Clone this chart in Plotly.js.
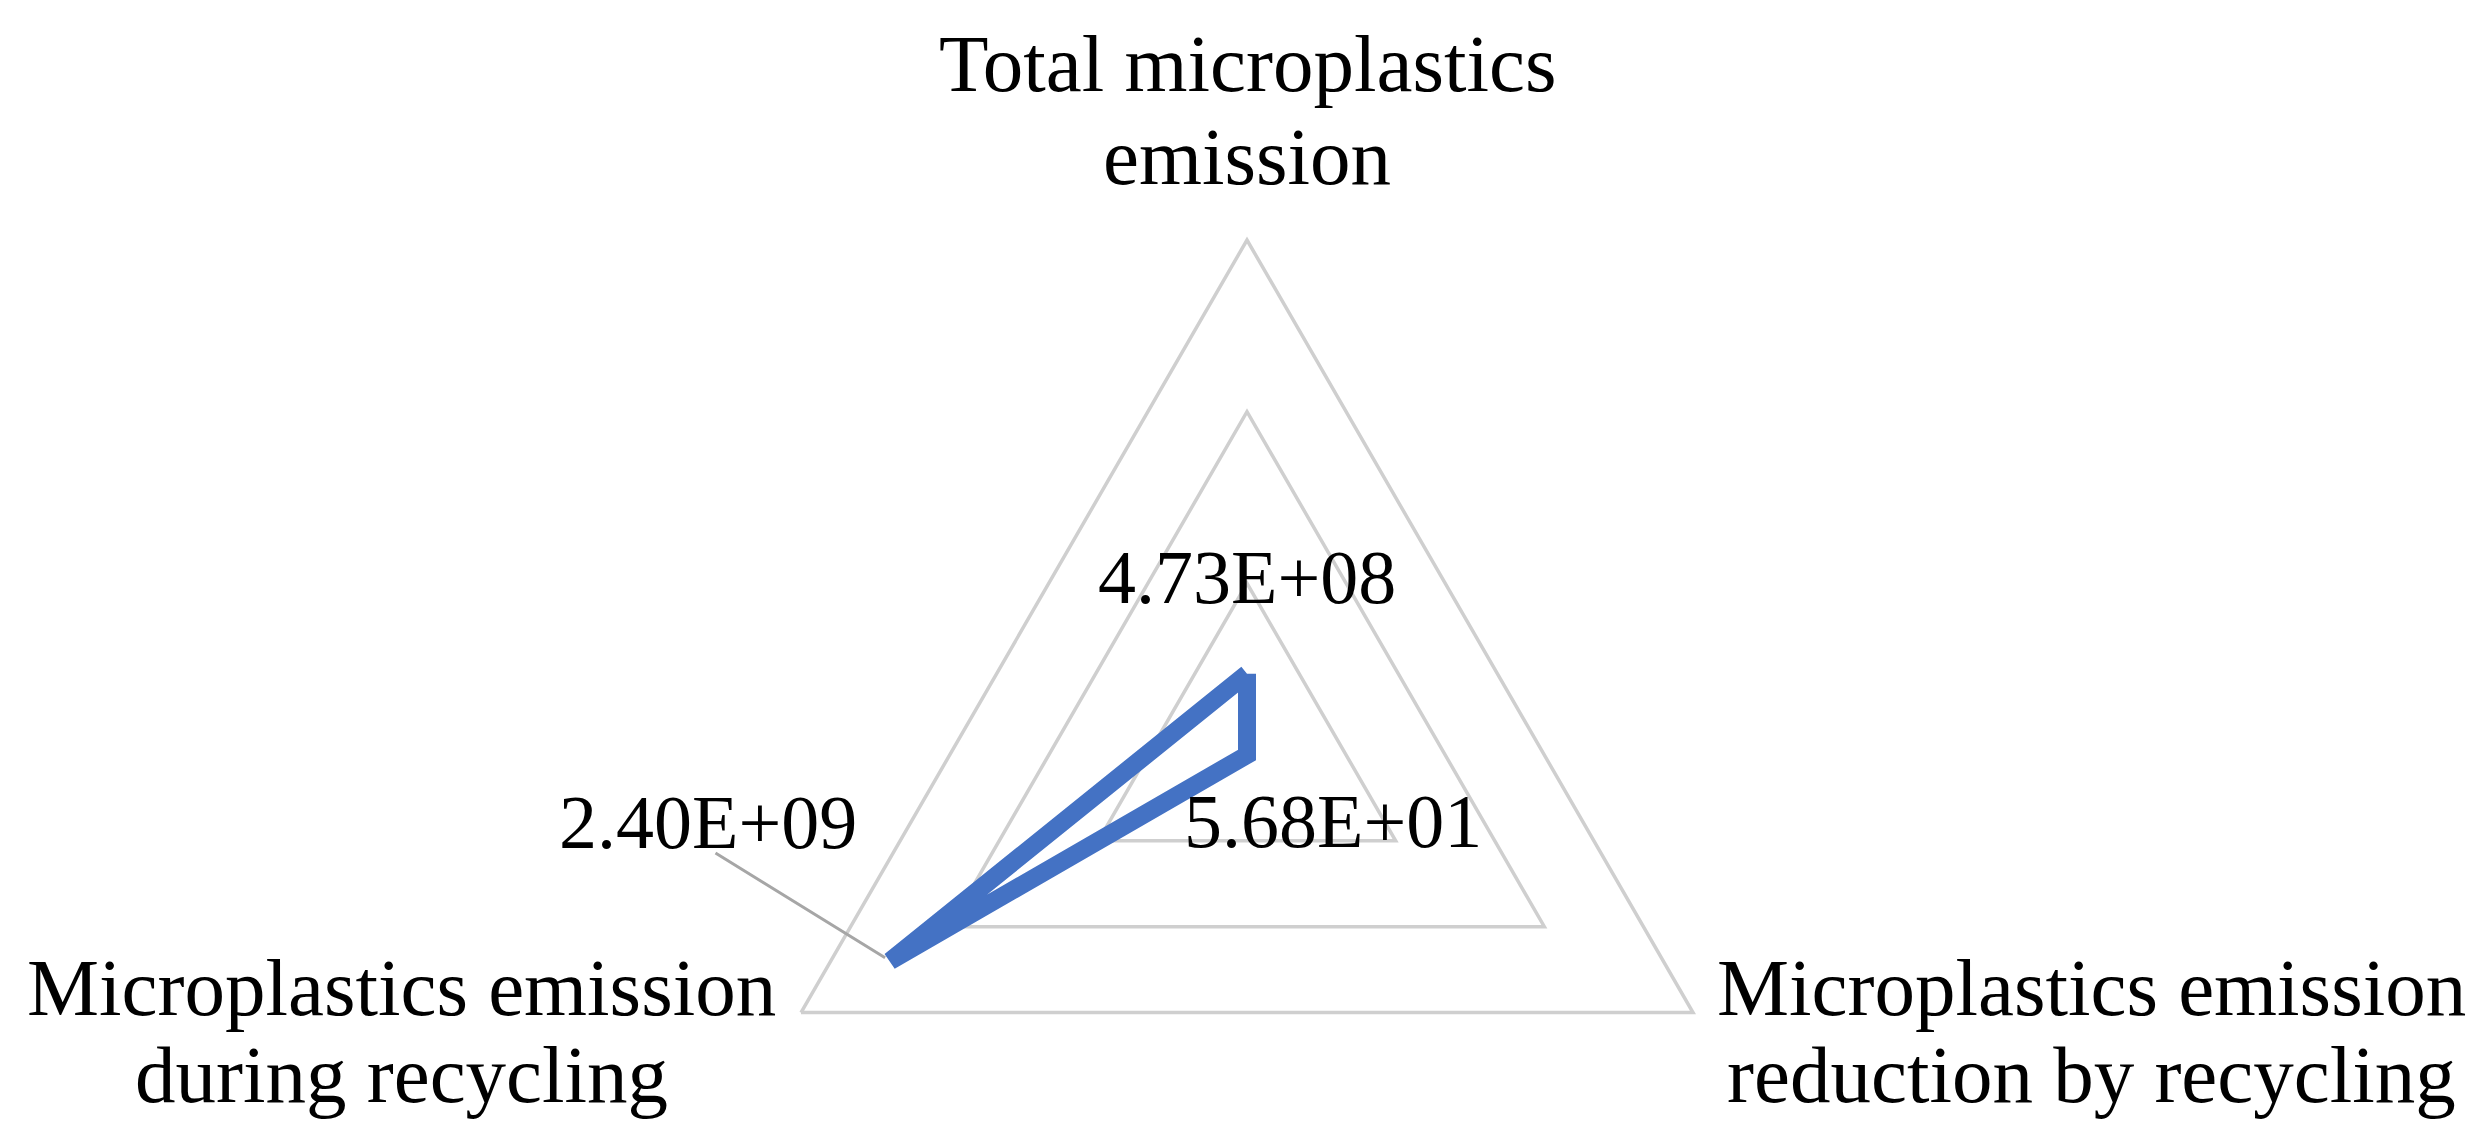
<!DOCTYPE html>
<html>
<head>
<meta charset="utf-8">
<script src="https://cdn.plot.ly/plotly-3.0.1.min.js"></script>
<style>
html, body { margin: 0; padding: 0; background: #ffffff; overflow: hidden; }
#wrap { width: 2488px; height: 1142px; overflow: hidden; position: relative; }
#chart { width: 2488px; height: 1300px; }
</style>
</head>
<body>
<div id="wrap"><div id="chart"></div></div>
<script>
// ---- data ----
const categories = [
  "Total microplastics emission",
  "Microplastics emission reduction by recycling",
  "Microplastics emission during recycling"
];
const values = [4.73e8, 56.8, 2.40e9];
const categoryLabelLines = [
  ["Total microplastics", "emission"],
  ["Microplastics emission", "reduction by recycling"],
  ["Microplastics emission", "during recycling"]
];
const radialTicks = [1e9, 2e9, 3e9];
const radialMax = 3e9;

// ---- layout geometry (pixels) ----
const W = 2488, H = 1300;
const CX = 1247, CY = 755, R = 515;
const FONT = "Liberation Serif, Times New Roman, serif";
const catFontSize = 81, valFontSize = 76;
// centre of each label line, per category (top, bottom-right, bottom-left)
const catLabelPos = [
  [[1247, 64], [1247, 157]],
  [[2091, 988], [2091, 1075]],
  [[401, 988], [401, 1075]]
];
// shift of each value label from its data point
const valLabelShift = [[0, 97], [86, -66], [-182, 139]];
const leaderTail = [714, 852];

function fmt(v) {
  const parts = v.toExponential(2).split('e');
  const e = parseInt(parts[1], 10);
  return parts[0] + 'E' + (e < 0 ? '-' : '+') + String(Math.abs(e)).padStart(2, '0');
}
function pointPx(i) {
  const a = (90 - 120 * i) * Math.PI / 180;
  const f = values[i] / radialMax;
  return [CX + R * f * Math.cos(a), CY - R * f * Math.sin(a)];
}
const px2x = x => x / W;
const px2y = y => 1 - y / H;

const annotations = [];
categoryLabelLines.forEach((lines, i) => {
  lines.forEach((t, j) => {
    const p = catLabelPos[i][j];
    annotations.push({
      xref: 'paper', yref: 'paper', x: px2x(p[0]), y: px2y(p[1]),
      xanchor: 'center', yanchor: 'middle', showarrow: false, text: t,
      font: {family: FONT, size: catFontSize, color: '#000000'}
    });
  });
});
values.forEach((v, i) => {
  const p = pointPx(i);
  annotations.push({
    xref: 'paper', yref: 'paper', x: px2x(p[0]), y: px2y(p[1]),
    xshift: valLabelShift[i][0], yshift: valLabelShift[i][1],
    xanchor: 'center', yanchor: 'middle', showarrow: false, text: fmt(v),
    font: {family: FONT, size: valFontSize, color: '#000000'}
  });
});
// leader line for the last value label
(function () {
  const p = pointPx(2);
  annotations.push({
    xref: 'paper', yref: 'paper', x: px2x(p[0]), y: px2y(p[1]),
    ax: leaderTail[0] - p[0], ay: leaderTail[1] - p[1],
    text: '', showarrow: true, arrowhead: 0, arrowwidth: 3,
    arrowcolor: '#A6A6A6', standoff: 6
  });
})();

const trace = {
  type: 'scatterpolar',
  r: values.concat([values[0]]),
  theta: categories.concat([categories[0]]),
  mode: 'lines',
  line: {color: '#4472C4', width: 18},
  hoverinfo: 'skip',
  showlegend: false
};

const layout = {
  width: W, height: H,
  margin: {l: 0, r: 0, t: 0, b: 0, pad: 0},
  paper_bgcolor: '#ffffff',
  showlegend: false,
  polar: {
    domain: {x: [(CX - R) / W, (CX + R) / W], y: [(H - CY - R) / H, (H - CY + R) / H]},
    gridshape: 'linear',
    bgcolor: '#ffffff',
    radialaxis: {
      range: [0, radialMax], tickvals: radialTicks, showticklabels: false,
      ticks: '', showline: false, gridcolor: '#CFCFCF', gridwidth: 3.5
    },
    angularaxis: {
      type: 'category', categoryorder: 'array', categoryarray: categories,
      rotation: 90, direction: 'clockwise', showticklabels: false, ticks: '',
      showgrid: false, showline: true, linecolor: '#CFCFCF', linewidth: 3.5
    }
  },
  annotations: annotations
};

Plotly.newPlot('chart', [trace], layout, {displayModeBar: false, staticPlot: true});
</script>
</body>
</html>
